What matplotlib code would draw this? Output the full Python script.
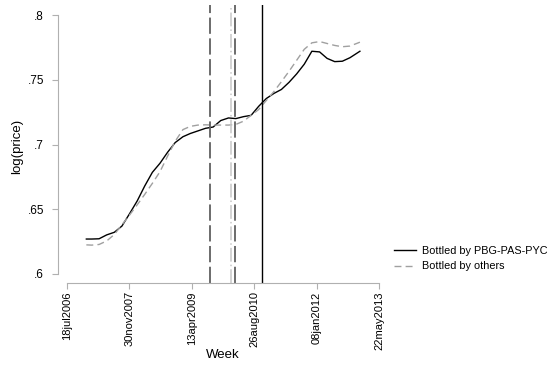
import numpy as np
import pandas as pd
import matplotlib
matplotlib.use("Agg")
import matplotlib.pyplot as plt
import matplotlib.dates as mdates

plt.rcParams['font.family'] = ['Liberation Sans', 'DejaVu Sans']

# weekly series, every ~2 months
dates = ["2006-12-20", "2007-02-01", "2007-04-01", "2007-06-01", "2007-08-01",
         "2007-10-01", "2007-12-01", "2008-02-01", "2008-04-01", "2008-06-01",
         "2008-08-01", "2008-10-01", "2008-12-01", "2009-02-01", "2009-04-01",
         "2009-06-01", "2009-08-01", "2009-10-01", "2009-12-01", "2010-02-01",
         "2010-04-01", "2010-06-01", "2010-08-01", "2010-10-01", "2010-12-01",
         "2011-02-01", "2011-04-01", "2011-06-01", "2011-08-01", "2011-10-01",
         "2011-12-01", "2012-02-01", "2012-04-01", "2012-06-01", "2012-08-01",
         "2012-10-01", "2012-12-20"]
pbg = [0.627, 0.627, 0.6272, 0.6302, 0.6322, 0.637, 0.6465, 0.6565, 0.668,
       0.6785, 0.6855, 0.694, 0.7015, 0.706, 0.7085, 0.7105, 0.7125, 0.7135,
       0.7185, 0.7205, 0.7200, 0.7215, 0.7225, 0.7295, 0.7355, 0.7395, 0.7425,
       0.748, 0.7545, 0.762, 0.772, 0.7715, 0.7665, 0.764, 0.7643, 0.767, 0.772]
others = [0.6225, 0.6223, 0.6228, 0.6255, 0.6305, 0.638, 0.6455, 0.6535, 0.6615,
          0.67, 0.679, 0.691, 0.7025, 0.7115, 0.714, 0.715, 0.7152, 0.715,
          0.715, 0.715, 0.7155, 0.718, 0.7225, 0.727, 0.734, 0.741, 0.7485,
          0.7565, 0.765, 0.7735, 0.7785, 0.7795, 0.778, 0.7765, 0.7755, 0.776, 0.779]

event_dates = ["2009-09-07", "2010-02-22", "2010-03-26", "2010-10-25"]
xtick_dates = ["2006-07-18", "2007-11-30", "2009-04-13", "2010-08-26",
               "2012-01-08", "2013-05-22"]
ytick_vals = [0.6, 0.65, 0.7, 0.75, 0.8]
ytick_labels = [".6", ".65", ".7", ".75", ".8"]

W, H = 548, 366
fig = plt.figure(figsize=(W / 100, H / 100), dpi=100)
# plot region in pixels: left 58, right 388, top 5, bottom 283
ax = fig.add_axes([58 / W, 1 - 283 / H, (388 - 58) / W, (283 - 5) / H])

d = pd.to_datetime(dates)
ax.plot(d, pbg, color='black', lw=1.0, label='Bottled by PBG-PAS-PYC')
ax.plot(d, others, color='#a0a0a0', lw=1.0, dashes=(5, 3),
        label='Bottled by others')

ev = pd.to_datetime(event_dates)
ax.axvline(ev[0], color='#606060', lw=1.3, dashes=(9, 2.5))
ax.axvline(ev[1], color='#c8c8c8', lw=1.1, dashes=(9, 2, 1, 2))
ax.axvline(ev[2], color='#606060', lw=1.3, dashes=(9, 2.5))
ax.axvline(ev[3], color='black', lw=1.0)

# axis scale: 500 days ~ 62.4 px, .05 ~ 64.8 px
xt = pd.to_datetime(xtick_dates)
x0 = mdates.date2num(xt[0])
x1 = mdates.date2num(xt[-1])
ppd = (379 - 67) / (x1 - x0)
ax.set_xlim(x0 - 9 / ppd, x0 + (388 - 67) / ppd)
ppv = (274 - 15) / 0.2
ax.set_ylim(0.6 - 9 / ppv, 0.8 + 10 / ppv)

for s in ['top', 'right']:
    ax.spines[s].set_visible(False)
for s in ['left', 'bottom']:
    ax.spines[s].set_color('#b0b0b0')
    ax.spines[s].set_linewidth(0.8)
ax.spines['left'].set_bounds(0.6, 0.8)
ax.spines['bottom'].set_bounds(x0, x1)

ax.set_xticks(xt)
ax.set_xticklabels([t.strftime('%d%b%Y').lower() for t in xt],
                   rotation=90, fontsize=8)
ax.set_yticks(ytick_vals)
ax.set_yticklabels(ytick_labels, fontsize=8.5)
ax.tick_params(axis='both', color='#b0b0b0', length=4, width=0.8)
ax.tick_params(axis='x', pad=2)
ax.tick_params(axis='y', pad=6)

# axis titles at fixed spots
fig.text(223 / W, 1 - 355 / H, 'Week', fontsize=9.5, ha='center', va='center')
fig.text(17 / W, 1 - 146 / H, 'log(price)', fontsize=9.5, rotation=90,
         ha='center', va='center')

ax.legend(loc='center left', bbox_to_anchor=(390 / W, 1 - 258.5 / H),
          bbox_transform=fig.transFigure, frameon=False, fontsize=7.8,
          handlelength=2.0, handletextpad=0.6, labelspacing=0.55,
          borderaxespad=0)

fig.savefig('out.png', dpi=100)
